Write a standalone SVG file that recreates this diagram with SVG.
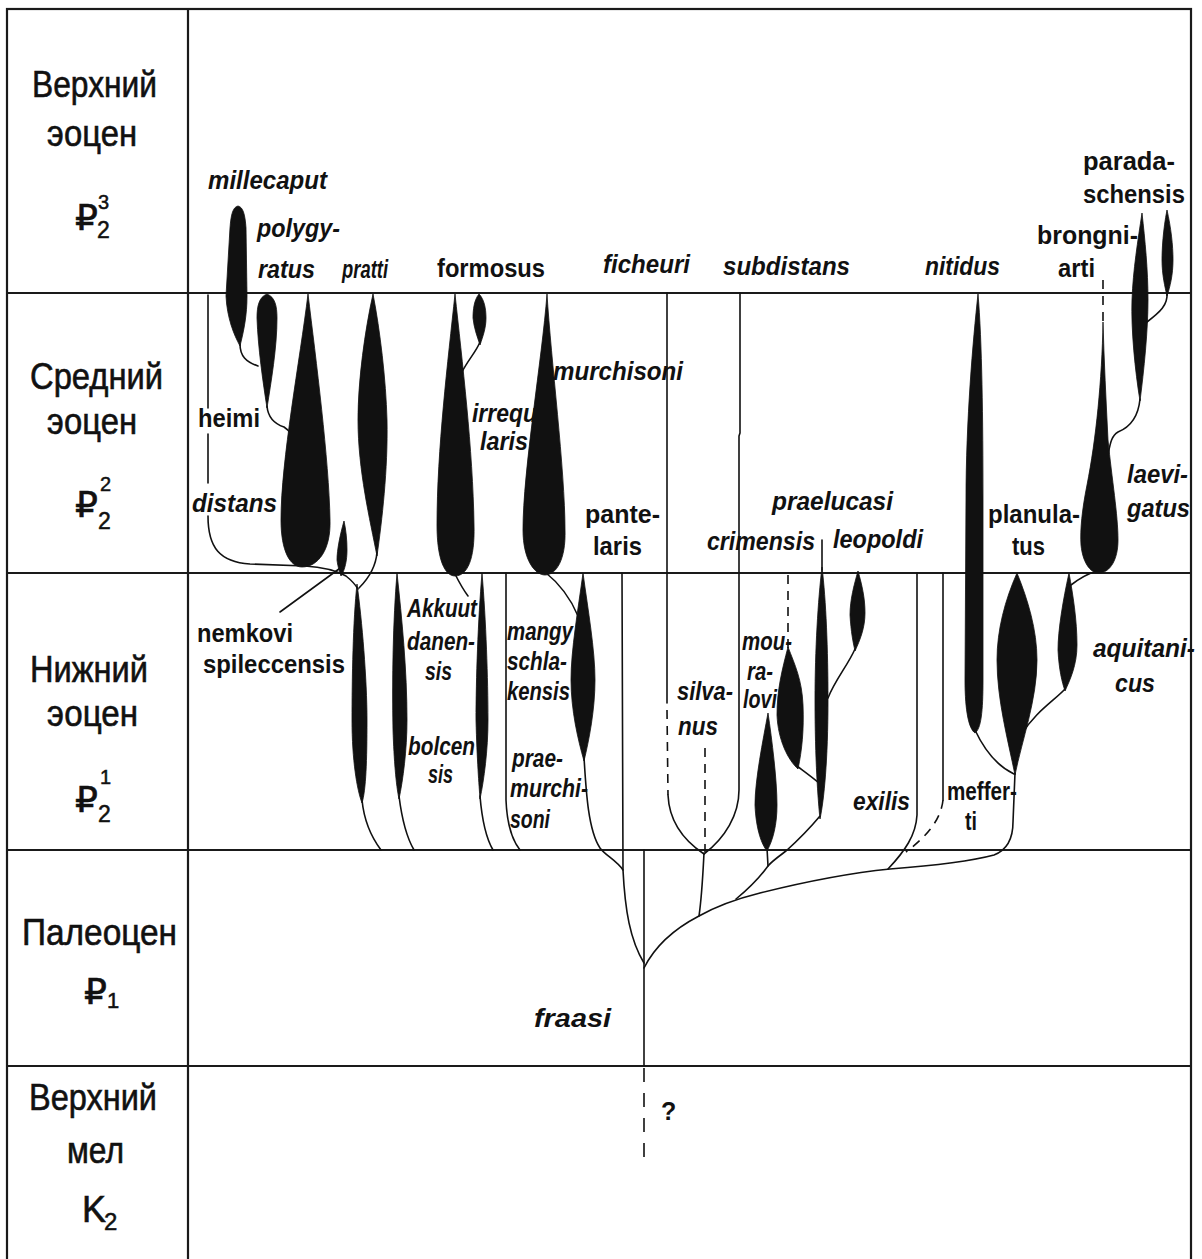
<svg xmlns="http://www.w3.org/2000/svg" width="1202" height="1259" viewBox="0 0 1202 1259">
<style>
.fr{stroke:#1a1a1a;stroke-width:2.2;fill:none}
.ln{stroke:#111;stroke-width:1.6;fill:none;stroke-linecap:round;stroke-linejoin:round}
.dash{stroke-dasharray:9 7;stroke-linecap:butt}
.sp{fill:#111;stroke:#111;stroke-width:0.8}
.per{font-family:"Liberation Sans",Arial,"DejaVu Sans",sans-serif;font-size:36px;fill:#111;stroke:#111;stroke-width:0.6}
.idx{font-family:"Liberation Sans",Arial,sans-serif;fill:#111;stroke:#111;stroke-width:0.5}
.tx{font-family:"Liberation Sans",Arial,sans-serif;font-size:25px;font-weight:bold;fill:#111}
.it{font-style:italic}
</style>
<rect width="1202" height="1259" fill="#fff"/>
<g id="frame">
<rect class="fr" x="7" y="9" width="1184" height="1262"/>
<line class="fr" x1="188" y1="9" x2="188" y2="1259"/>
<line class="fr" x1="7" y1="293" x2="1191" y2="293"/>
<line class="fr" x1="7" y1="573" x2="1191" y2="573"/>
<line class="fr" x1="7" y1="850" x2="1191" y2="850"/>
<line class="fr" x1="7" y1="1066" x2="1191" y2="1066"/>
</g>
<g id="periods">
<text class="per" x="32" y="97" textLength="125" lengthAdjust="spacingAndGlyphs">Верхний</text>
<text class="per" x="47" y="146" textLength="90" lengthAdjust="spacingAndGlyphs">эоцен</text>
<text class="per" x="75" y="230">₽</text><text class="idx" x="98" y="209" font-size="20">3</text><text class="idx" x="97" y="238" font-size="23">2</text>
<text class="per" x="30" y="389" textLength="133" lengthAdjust="spacingAndGlyphs">Средний</text>
<text class="per" x="47" y="434" textLength="90" lengthAdjust="spacingAndGlyphs">эоцен</text>
<text class="per" x="75" y="517">₽</text><text class="idx" x="100" y="491" font-size="20">2</text><text class="idx" x="98" y="529" font-size="23">2</text>
<text class="per" x="30" y="682" textLength="118" lengthAdjust="spacingAndGlyphs">Нижний</text>
<text class="per" x="47" y="726" textLength="91" lengthAdjust="spacingAndGlyphs">эоцен</text>
<text class="per" x="75" y="812">₽</text><text class="idx" x="100" y="784" font-size="20">1</text><text class="idx" x="98" y="822" font-size="23">2</text>
<text class="per" x="22" y="945" textLength="155" lengthAdjust="spacingAndGlyphs">Палеоцен</text>
<text class="per" x="84" y="1004">₽</text><text class="idx" x="107" y="1008" font-size="22">1</text>
<text class="per" x="29" y="1110" textLength="128" lengthAdjust="spacingAndGlyphs">Верхний</text>
<text class="per" x="67" y="1163" textLength="57" lengthAdjust="spacingAndGlyphs">мел</text>
<text class="per" x="82" y="1222">K</text><text class="idx" x="104" y="1230" font-size="24">2</text>
</g>
<g id="connectors">
<path class="ln" d="M208,295 L208,408 M208,434 L208,483 M208,516 C208,548 220,562 250,564 L305,566 C322,567 337,571 346,576 C351,580 355,584 358,589"/>
<path class="ln" d="M240,344 C240,356 246,362 258,366"/>
<path class="ln" d="M267,406 C268,418 275,424 284,427 C287,429 289,431 290,433"/>
<path class="ln" d="M377,552 C376,566 370,577 359,588"/>
<path class="ln" d="M280,612 L343,566"/>
<path class="ln" d="M362,800 C364,820 372,838 381,850"/>
<path class="ln" d="M399,796 C402,820 407,838 414,850"/>
<path class="ln" d="M480,796 C482,820 486,838 493,850"/>
<path class="ln" d="M506,573 L506,800 C507,825 512,840 520,850"/>
<path class="ln" d="M455,574 C458,580 462,588 468,596"/>
<path class="ln" d="M480,342 C476,352 468,360 462,372"/>
<path class="ln" d="M545,572 C555,580 568,592 578,616"/>
<path class="ln" d="M584,757 C586,790 588,830 600,848 C606,856 616,860 623,870"/>
<path class="ln" d="M622,573 L623,870 C625,910 630,940 644,963"/>
<path class="ln" d="M644,850 L644,1066"/>
<path class="ln dash" d="M644,1068 L644,1158" style="stroke-dasharray:14 11"/>
<path class="ln" d="M667,293 L667,703"/>
<path class="ln dash" d="M667,710 L668,795"/>
<path class="ln" d="M668,795 C669,818 680,838 704,854"/>
<path class="ln" d="M740,293 L740,433 L739,436 L739,790 C739,815 725,838 704,854"/>
<path class="ln dash" d="M705,748 L705,852"/>
<path class="ln" d="M704,853 C703,872 702,895 699,916"/>
<path class="ln" d="M644,968 C655,946 672,930 699,916 C715,907 732,900 760,893 C800,883 850,873 890,869 C930,866 968,862 994,855 C1007,850 1013,838 1013,822 L1015,773"/>
<path class="ln" d="M820,816 C810,828 796,842 786,851 C778,857 771,862 768,866 C760,877 747,890 736,899"/>
<path class="ln" d="M767,848 L768,866"/>
<path class="ln dash" d="M788,575 L788,648"/>
<path class="ln" d="M797,766 C805,772 812,777 819,783"/>
<path class="ln" d="M822,540 L822,570"/>
<path class="ln" d="M855,649 C848,665 835,680 828,698"/>
<path class="ln" d="M917,573 L917,815 C916,835 905,851 888,869"/>
<path class="ln" d="M943,573 L943,800"/>
<path class="ln dash" d="M943,800 C941,820 926,837 906,852"/>
<path class="ln" d="M975,730 C982,745 995,765 1014,774"/>
<path class="ln" d="M1065,689 C1055,700 1035,712 1021,735"/>
<path class="ln" d="M1071,585 C1080,578 1090,573 1097,571"/>
<path class="ln dash" d="M1103,280 L1103,323"/>
<path class="ln" d="M1140,399 C1138,420 1128,428 1118,432 C1111,436 1110,445 1108,455"/>
<path class="ln" d="M1167,293 C1168,305 1160,312 1147,322"/>
</g>
<g id="n-millecaput"><text class="tx it" x="208" y="189" textLength="119" lengthAdjust="spacingAndGlyphs">millecaput</text>
<path class="sp" d="M238,206 C233,207 231,214 230,228 L226,296 C227,318 234,335 240,346 C244,330 247,315 247,296 L246,228 C245,214 243,207 238,206 Z"/></g>
<g id="n-polygyratus"><text class="tx it" x="257" y="237" textLength="83" lengthAdjust="spacingAndGlyphs">polygy-</text><text class="tx it" x="258" y="278" textLength="57" lengthAdjust="spacingAndGlyphs">ratus</text>
<path class="sp" d="M267,294 C259,297 257,306 257,318 C258,348 263,382 267,408 C271,382 277,348 277,318 C277,306 275,297 267,294 Z"/></g>
<g id="n-heimi"><text class="tx" x="198" y="427" textLength="62" lengthAdjust="spacingAndGlyphs">heimi</text>
<path class="sp" d="M308,294 C300,360 281,460 281,520 C281,551 290,567 302,567 C318,567 331,550 330,520 C329,460 316,360 308,294 Z"/></g>
<g id="n-distans"><text class="tx it" x="192" y="512" textLength="85" lengthAdjust="spacingAndGlyphs">distans</text></g>
<g id="n-pratti"><text class="tx it" x="342" y="278" textLength="46" lengthAdjust="spacingAndGlyphs">pratti</text>
<path class="sp" d="M373,294 C365,330 358,380 358,420 C358,470 370,520 377,556 C382,520 388,470 387,420 C386,380 380,330 373,294 Z"/></g>
<g id="n-nemkovi"><text class="tx" x="197" y="642" textLength="96" lengthAdjust="spacingAndGlyphs">nemkovi</text><text class="tx" x="203" y="673" textLength="142" lengthAdjust="spacingAndGlyphs">spileccensis</text>
<path class="sp" d="M344,521 C340,535 337,550 337,560 C338,568 340,573 341,576 C345,570 347,560 347,550 C347,540 346,530 344,521 Z"/>
<path class="sp" d="M357,584 C353,620 352,680 352,720 C352,760 357,790 362,803 C366,790 367,760 367,720 C367,680 362,620 357,584 Z"/></g>
<g id="n-akkuutdanensis"><text class="tx it" x="407" y="617" textLength="70" lengthAdjust="spacingAndGlyphs">Akkuut</text><text class="tx it" x="407" y="650" textLength="68" lengthAdjust="spacingAndGlyphs">danen-</text><text class="tx it" x="425" y="680" textLength="27" lengthAdjust="spacingAndGlyphs">sis</text>
<path class="sp" d="M397,573 C393,620 392,680 393,730 C394,760 396,785 399,799 C403,780 407,750 407,720 C407,670 402,620 397,573 Z"/></g>
<g id="n-bolcensis"><text class="tx it" x="408" y="755" textLength="67" lengthAdjust="spacingAndGlyphs">bolcen</text><text class="tx it" x="428" y="783" textLength="25" lengthAdjust="spacingAndGlyphs">sis</text>
<path class="sp" d="M482,573 C478,620 476,680 476,720 C477,760 479,785 480,799 C484,780 488,750 488,720 C488,680 486,620 482,573 Z"/></g>
<g id="n-formosus"><text class="tx" x="437" y="277" textLength="108" lengthAdjust="spacingAndGlyphs">formosus</text>
<path class="sp" d="M455,294 C448,360 437,450 437,525 C437,560 445,576 455,576 C467,576 475,560 474,525 C473,450 462,360 455,294 Z"/></g>
<g id="n-irregularis"><text class="tx it" x="472" y="422" textLength="65" lengthAdjust="spacingAndGlyphs">irrequ</text><text class="tx it" x="480" y="450" textLength="48" lengthAdjust="spacingAndGlyphs">laris</text>
<path class="sp" d="M479,294 C474,300 473,310 473,318 C474,328 477,336 480,345 C483,336 486,328 486,318 C486,308 484,299 479,294 Z"/></g>
<g id="n-murchisoni"><text class="tx it" x="553" y="380" textLength="130" lengthAdjust="spacingAndGlyphs">murchisoni</text>
<path class="sp" d="M547,294 C542,360 523,470 523,530 C523,560 535,575 545,575 C556,575 566,560 565,530 C565,470 551,360 547,294 Z"/></g>
<g id="n-mangyschlakensis"><text class="tx it" x="507" y="640" textLength="66" lengthAdjust="spacingAndGlyphs">mangy</text><text class="tx it" x="507" y="670" textLength="60" lengthAdjust="spacingAndGlyphs">schla-</text><text class="tx it" x="507" y="700" textLength="63" lengthAdjust="spacingAndGlyphs">kensis</text>
<path class="sp" d="M583,573 C578,610 571,650 571,680 C571,710 578,740 584,761 C589,740 595,710 595,680 C595,650 588,610 583,573 Z"/></g>
<g id="n-praemurchisoni"><text class="tx it" x="512" y="767" textLength="51" lengthAdjust="spacingAndGlyphs">prae-</text><text class="tx it" x="510" y="797" textLength="78" lengthAdjust="spacingAndGlyphs">murchi-</text><text class="tx it" x="510" y="828" textLength="40" lengthAdjust="spacingAndGlyphs">soni</text></g>
<g id="n-pantelaris"><text class="tx" x="585" y="523" textLength="75" lengthAdjust="spacingAndGlyphs">pante-</text><text class="tx" x="593" y="555" textLength="49" lengthAdjust="spacingAndGlyphs">laris</text></g>
<g id="n-ficheuri"><text class="tx it" x="603" y="273" textLength="87" lengthAdjust="spacingAndGlyphs">ficheuri</text></g>
<g id="n-silvanus"><text class="tx it" x="677" y="700" textLength="56" lengthAdjust="spacingAndGlyphs">silva-</text><text class="tx it" x="678" y="735" textLength="40" lengthAdjust="spacingAndGlyphs">nus</text></g>
<g id="n-subdistans"><text class="tx it" x="723" y="275" textLength="127" lengthAdjust="spacingAndGlyphs">subdistans</text></g>
<g id="n-fraasi"><text class="tx it" x="534" y="1027" textLength="77" lengthAdjust="spacingAndGlyphs">fraasi</text><text class="tx" x="661" y="1120" font-weight="normal">?</text></g>
<g id="n-mouralovi"><text class="tx it" x="742" y="650" textLength="50" lengthAdjust="spacingAndGlyphs">mou-</text><text class="tx it" x="747" y="680" textLength="26" lengthAdjust="spacingAndGlyphs">ra-</text><text class="tx it" x="743" y="708" textLength="34" lengthAdjust="spacingAndGlyphs">lovi</text>
<path class="sp" d="M788,647 C782,670 777,690 777,715 C778,740 788,760 798,769 C802,750 804,730 803,705 C802,680 795,665 788,647 Z"/>
<path class="sp" d="M768,713 C763,740 755,780 755,805 C756,830 762,845 767,851 C773,840 777,825 777,805 C777,780 772,740 768,713 Z"/></g>
<g id="n-praelucasi"><text class="tx it" x="772" y="510" textLength="121" lengthAdjust="spacingAndGlyphs">praelucasi</text>
<path class="sp" d="M822,567 C818,600 815,650 815,700 C815,760 818,800 820,819 C824,800 828,760 828,700 C828,650 826,600 822,567 Z"/></g>
<g id="n-crimensis"><text class="tx it" x="707" y="550" textLength="108" lengthAdjust="spacingAndGlyphs">crimensis</text></g>
<g id="n-leopoldi"><text class="tx it" x="833" y="548" textLength="90" lengthAdjust="spacingAndGlyphs">leopoldi</text>
<path class="sp" d="M858,571 C854,585 850,600 850,615 C851,632 853,642 855,651 C860,640 865,628 865,613 C865,598 862,585 858,571 Z"/></g>
<g id="n-exilis"><text class="tx it" x="853" y="810" textLength="57" lengthAdjust="spacingAndGlyphs">exilis</text></g>
<g id="n-nitidus"><text class="tx it" x="925" y="275" textLength="75" lengthAdjust="spacingAndGlyphs">nitidus</text>
<path class="sp" d="M978,294 C973,340 966,420 966,500 L965,680 C965,712 969,729 975,733 C981,729 983,712 983,680 L983,500 C983,420 982,340 978,294 Z"/></g>
<g id="n-mefferti"><text class="tx" x="947" y="800" textLength="70" lengthAdjust="spacingAndGlyphs">meffer-</text><text class="tx" x="965" y="830" textLength="12" lengthAdjust="spacingAndGlyphs">ti</text></g>
<g id="n-planulatus"><text class="tx" x="988" y="523" textLength="92" lengthAdjust="spacingAndGlyphs">planula-</text><text class="tx" x="1012" y="555" textLength="33" lengthAdjust="spacingAndGlyphs">tus</text>
<path class="sp" d="M1017,573 C1005,600 997,630 997,660 C997,700 1008,740 1015,775 C1022,740 1037,700 1037,660 C1037,630 1028,600 1017,573 Z"/></g>
<g id="n-aquitanicus"><text class="tx it" x="1093" y="657" textLength="102" lengthAdjust="spacingAndGlyphs">aquitani-</text><text class="tx it" x="1115" y="692" textLength="40" lengthAdjust="spacingAndGlyphs">cus</text>
<path class="sp" d="M1069,573 C1063,600 1058,630 1058,650 C1059,670 1062,682 1065,691 C1070,680 1077,665 1077,645 C1077,620 1073,595 1069,573 Z"/></g>
<g id="n-laevigatus"><text class="tx it" x="1127" y="483" textLength="61" lengthAdjust="spacingAndGlyphs">laevi-</text><text class="tx it" x="1127" y="517" textLength="63" lengthAdjust="spacingAndGlyphs">gatus</text>
<path class="sp" d="M1103,322 C1102,380 1096,440 1087,485 C1082,510 1080,530 1081,545 C1083,565 1092,574 1100,573 C1110,572 1118,560 1118,540 C1118,515 1112,480 1108,440 C1106,400 1104,360 1103,322 Z"/></g>
<g id="n-brongniarti"><text class="tx" x="1037" y="244" textLength="101" lengthAdjust="spacingAndGlyphs">brongni-</text><text class="tx" x="1058" y="277" textLength="37" lengthAdjust="spacingAndGlyphs">arti</text>
<path class="sp" d="M1142,213 C1138,240 1133,270 1132,300 C1131,330 1135,370 1140,401 C1144,370 1148,330 1148,300 C1148,270 1145,240 1142,213 Z"/></g>
<g id="n-paradaschensis"><text class="tx" x="1083" y="170" textLength="92" lengthAdjust="spacingAndGlyphs">parada-</text><text class="tx" x="1083" y="203" textLength="102" lengthAdjust="spacingAndGlyphs">schensis</text>
<path class="sp" d="M1167,210 C1163,230 1162,250 1162,260 C1162,275 1165,287 1167,296 C1170,287 1173,275 1173,260 C1173,245 1171,228 1167,210 Z"/></g>
</svg>
